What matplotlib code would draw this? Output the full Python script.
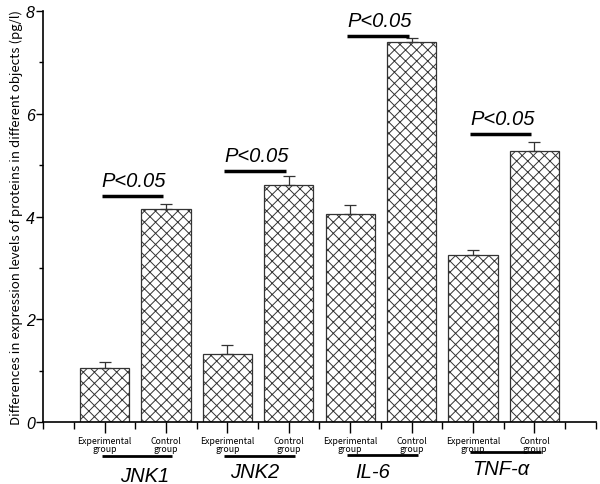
import matplotlib
matplotlib.use("Agg")
import matplotlib.pyplot as plt
import numpy as np

plt.rcParams['hatch.linewidth'] = 0.7
plt.rcParams['hatch.color'] = '#444444'

groups = ["JNK1", "JNK2", "IL-6", "TNF-α"]
conditions = ["Experimental\ngroup", "Control\ngroup"]
exp_vals = [1.05, 1.32, 4.05, 3.25]
ctrl_vals = [4.15, 4.62, 7.40, 5.28]
exp_err = [0.12, 0.17, 0.17, 0.10]
ctrl_err = [0.10, 0.17, 0.08, 0.18]
sig_text = ["P<0.05", "P<0.05", "P<0.05", "P<0.05"]
sig_y = [4.40, 4.88, 7.51, 5.60]
y_ticks = [0, 2, 4, 6, 8]

fig = plt.figure(figsize=(6, 4.85), dpi=100)
ax = fig.add_axes([0.072, 0.128, 0.921, 0.847])

pos_exp = np.arange(len(groups)) * 2 + 1
pos_ctrl = pos_exp + 1
vals = []
poss = []
errs = []
for i in range(len(groups)):
    poss += [pos_exp[i], pos_ctrl[i]]
    vals += [exp_vals[i], ctrl_vals[i]]
    errs += [exp_err[i], ctrl_err[i]]

ax.bar(poss, vals, width=0.8, color='white', edgecolor='#333333',
       linewidth=0.9, hatch='xxx', zorder=2)
ax.errorbar(poss, vals, yerr=[np.zeros(len(errs)), errs], fmt='none',
            ecolor='#333333', elinewidth=0.9, capsize=4, capthick=0.9, zorder=3)

for i in range(len(groups)):
    x1, x2 = pos_exp[i], pos_ctrl[i]
    ax.plot([x1 - 0.05, x2 - 0.05], [sig_y[i], sig_y[i]], color='black', lw=2.5,
            solid_capstyle='butt', zorder=4)
    ax.text((x1 + x2) / 2 - 0.02, sig_y[i] + 0.12, sig_text[i], ha='center', va='bottom',
            fontsize=14.5, style='italic', family='Liberation Sans')

ax.set_xlim(0, 9)
ax.set_ylim(0, 8)
ax.set_xticks(poss)
ax.set_xticklabels(conditions * len(groups), fontsize=6.3,
                   family=['Noto Sans CJK SC', 'DejaVu Sans'], linespacing=0.95)
ax.set_xticks([0] + list(np.arange(0.5, 9, 1.0)) + [9], minor=True)
ax.set_yticks(y_ticks)
ax.set_yticks([1, 3, 5, 7], minor=True)
ax.set_yticklabels([str(t) for t in y_ticks], fontsize=11.5, style='italic',
                   family='Liberation Sans')
ax.tick_params(axis='x', which='major', direction='out', length=8, width=1, pad=2)
ax.tick_params(axis='x', which='minor', direction='out', length=5, width=1)
ax.tick_params(axis='y', which='major', direction='out', length=5, width=1, pad=1)
ax.tick_params(axis='y', which='minor', direction='out', length=3, width=1)

for s in ['top', 'right']:
    ax.spines[s].set_visible(False)
for s in ['left', 'bottom']:
    ax.spines[s].set_linewidth(1.2)

ax.set_ylabel("Differences in expression levels of proteins in different objects (pg/l)",
              fontsize=9.5, family=['Noto Sans CJK SC', 'DejaVu Sans'], labelpad=2)

# group underlines and labels below axis
trans = ax.get_xaxis_transform()
label_y = [-0.143, -0.133, -0.135, -0.126]
label_dx = [0.16, -0.06, -0.14, -0.05]
line_y = [-0.083, -0.083, -0.081, -0.074]
for i in range(len(groups)):
    x1, x2 = pos_exp[i], pos_ctrl[i]
    ax.plot([x1 - 0.05, x2 + 0.1], [line_y[i], line_y[i]], transform=trans, color='black',
            lw=2, clip_on=False, solid_capstyle='butt')
    ax.text((x1 + x2) / 2 + label_dx[i], label_y[i], groups[i], transform=trans, ha='center',
            va='baseline', fontsize=14.5, style='italic', family='Liberation Sans')

fig.savefig("out.png", dpi=100)
